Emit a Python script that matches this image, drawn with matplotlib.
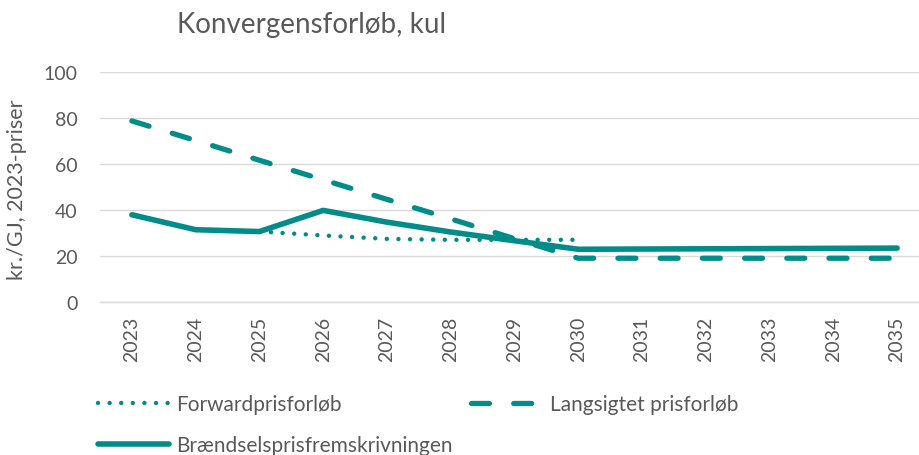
import matplotlib
matplotlib.use("Agg")
import matplotlib.pyplot as plt
import numpy as np

plt.rcParams['font.family'] = ['Lato', 'DejaVu Sans']

years = ['2023', '2024', '2025', '2026', '2027', '2028', '2029', '2030',
         '2031', '2032', '2033', '2034', '2035']
forward = [np.nan, np.nan, 30.5, 28.8, 27.3, 26.9, 26.9, 26.9,
           np.nan, np.nan, np.nan, np.nan, np.nan]
langsigtet = [78.6, 70.1, 61.5, 53.0, 44.5, 36.0, 27.4, 18.9,
              18.9, 18.9, 18.9, 18.9, 18.9]
braendsel = [37.8, 31.3, 30.5, 39.7, 34.6, 30.3, 26.5, 22.8,
             22.9, 23.0, 23.1, 23.2, 23.3]
yticks = [0, 20, 40, 60, 80, 100]

teal = '#008C88'
gray = '#595959'
grid = '#D9D9D9'

W, H = 919, 456
fig = plt.figure(figsize=(W / 100, H / 100), dpi=100)
left, right, top, bottom = 100, 929, 72.7, 302.7
ax = fig.add_axes([left / W, 1 - bottom / H, (right - left) / W, (bottom - top) / H])

x = np.arange(len(years))
l_fw, = ax.plot(x, forward, color=teal, lw=3.2, linestyle=(0, (0.01, 2.6)),
                dash_capstyle='round', solid_capstyle='round', label='Forwardprisforløb')
l_ls, = ax.plot(x, langsigtet, color=teal, lw=3.8, linestyle=(0, (3.4, 4.6)),
                dash_capstyle='round', label='Langsigtet prisforløb')
l_br, = ax.plot(x, braendsel, color=teal, lw=4.0, solid_capstyle='round',
                solid_joinstyle='round', label='Brændselsprisfremskrivningen')

ax.set_xlim(-0.5, len(years) - 0.5)
ax.set_ylim(0, 100)
ax.set_yticks(yticks)
ax.set_yticklabels([str(v) for v in yticks])
ax.set_xticks(x)
ax.set_xticklabels(years, rotation=90)
ax.tick_params(axis='both', length=0, labelsize=14, colors=gray)
ax.tick_params(axis='y', pad=16)
ax.tick_params(axis='x', pad=10)
ax.grid(axis='y', color=grid, lw=1.0)
ax.set_axisbelow(True)
for s in ['top', 'right', 'left']:
    ax.spines[s].set_visible(False)
ax.spines['bottom'].set_color(grid)
ax.spines['bottom'].set_linewidth(1.0)

fig.text(17 / W, 1 - 190 / H, 'kr./GJ, 2023-priser', rotation=90, ha='center',
         va='center', fontsize=15.5, color=gray)
fig.text(177 / W, 1 - 25 / H, 'Konvergensforløb, kul', ha='left', va='center',
         fontsize=20, color=gray)

leg = fig.legend([l_fw, l_br, l_ls],
                 ['Forwardprisforløb', 'Brændselsprisfremskrivningen', 'Langsigtet prisforløb'],
                 ncol=2, loc='upper left', bbox_to_anchor=(98 / W, 1 - 395 / H),
                 frameon=False, fontsize=15, labelcolor=gray, handlelength=3.4,
                 handletextpad=0.35, columnspacing=0.9, labelspacing=1.0,
                 borderpad=0, borderaxespad=0)

fig.savefig('out.png', dpi=100)
